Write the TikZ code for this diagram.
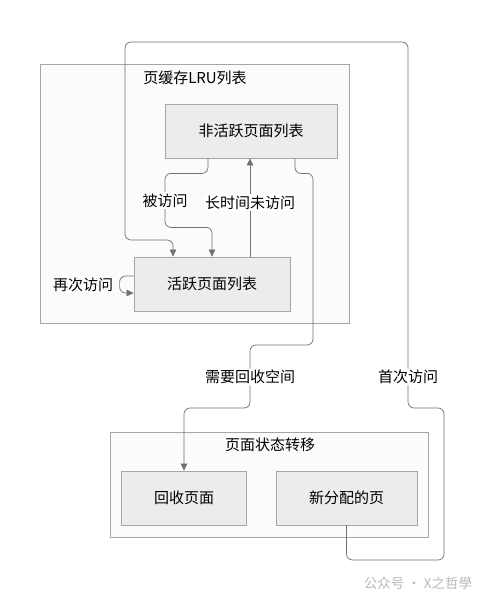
\documentclass[tikz,border=0pt]{standalone}
\usepackage{fontspec}
\setmainfont{Noto Sans CJK SC}
\usetikzlibrary{arrows.meta}
\definecolor{linegray}{HTML}{707070}
\definecolor{boxgray}{HTML}{ECECEC}
\definecolor{framegray}{HTML}{A6A6A6}
\begin{document}
\begin{tikzpicture}[x=1pt, y=-1pt,
    group/.style = {draw=framegray, fill=gray!3, line width=0.8pt, inner sep=0pt},
    state/.style = {draw=framegray, fill=boxgray, line width=0.8pt, minimum height=54pt, inner sep=0pt},
    link/.style = {draw=linegray, line width=0.7pt, rounded corners=6pt, -{Triangle[length=7pt,width=6.5pt]}},
    lbl/.style = {fill=white, inner sep=1.5pt},
    font = \fontsize{15}{18}\selectfont]
\useasboundingbox (0,0) rectangle (486,602);

% groups
\node[group, minimum width=309pt, minimum height=259pt] (lru) at (194.5,193.5) {};
\node (lrut) at (195,78) {页缓存LRU列表};
\node[group, minimum width=318pt, minimum height=105pt] (trans) at (269,484.5) {};
\node (transt) at (270,445) {页面状态转移};

% states
\node[state, minimum width=172pt] (inact) at (251,131) {非活跃页面列表};
\node[state, minimum width=156pt] (act) at (212,284) {活跃页面列表};
\node[state, minimum width=125pt] (reclaim) at (184,498) {回收页面};
\node[state, minimum width=141pt] (newpg) at (346.5,498) {新分配的页};

% transitions
\draw[link] ([xshift=-43pt]inact.south) -- ++(0,15) -- ++(-43,0) -- ++(0,27) node[lbl] {被访问} -- ++(0,27) -- ++(47,0) -- (act.north);
\draw[link] ([xshift=38pt]act.north) -- node[lbl, pos=0.55] {长时间未访问} ([xshift=38pt]act.north |- inact.south);
\draw[link] ([yshift=8pt]act.west) -- ++(-14,0) -- ++(0,17) -- ([yshift=-9pt]act.west);
\node (again) at (83,285) {再次访问};
\draw[link] ([xshift=44pt]inact.south) -- ++(0,15) -- ++(18,0) |- (250,345) -- (250,377) node[lbl] {需要回收空间} -- (250,408) -| (reclaim.north);
\draw[link] (newpg.south) |- (444,560) -- (444,408) -- (408,408) -- (408,377) node[lbl] {首次访问} |- (125,42) -- (125,240) -| ([xshift=-39pt]act.north);

% watermark
\node[text=gray!55, font=\fontsize{13.5}{16}\selectfont] (mark) at (418,583) {公众号 · X之哲學};
\end{tikzpicture}
\end{document}
